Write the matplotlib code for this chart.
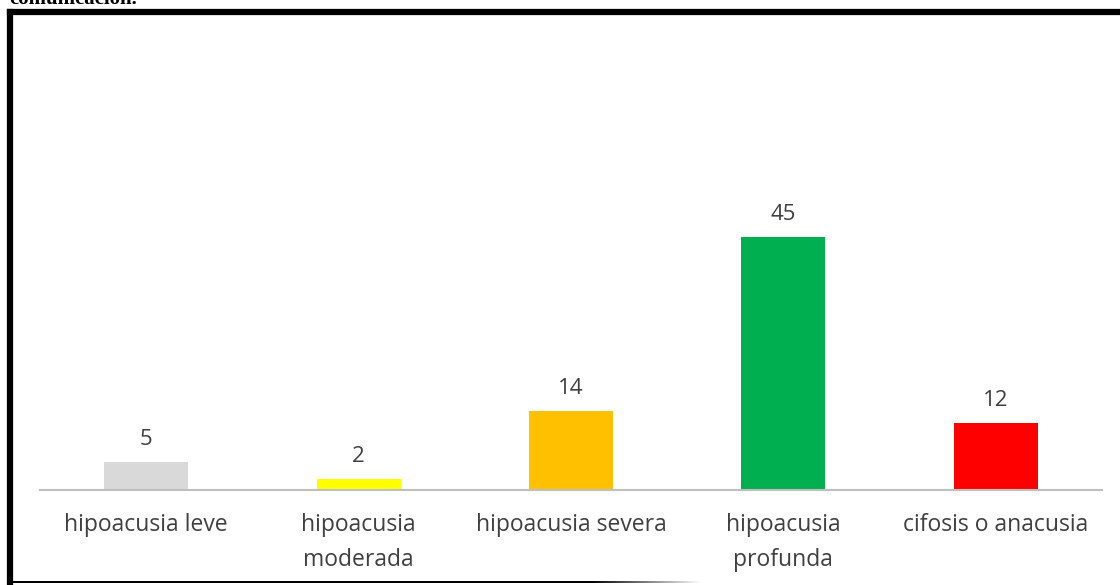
import numpy as np
import matplotlib.pyplot as plt
from matplotlib.lines import Line2D

# Grado de pérdida auditiva de los estudiantes
categorias = ['hipoacusia leve', 'hipoacusia\nmoderada', 'hipoacusia severa',
              'hipoacusia\nprofunda', 'cifosis o anacusia']
valores = [5, 2, 14, 45, 12]
colores = ['#d9d9d9', '#ffff00', '#ffc000', '#00b050', '#ff0000']

W, H = 1120, 585
fig = plt.figure(figsize=(W / 100, H / 100), dpi=100)

# marco negro alrededor del grafico
fig.add_artist(Line2D([10 / W, 10 / W], [0, 1 - 12 / H], color='black', lw=4.5,
                      transform=fig.transFigure, solid_capstyle='projecting'))
fig.add_artist(Line2D([10 / W, 1], [1 - 12 / H, 1 - 12 / H], color='black', lw=4.5,
                      transform=fig.transFigure, solid_capstyle='projecting'))

# borde inferior que se desvanece hacia la derecha (imagen en pixeles)
largo = 690
gris = np.clip((np.arange(largo) - 580) / 110, 0, 1)
franja = np.zeros((2, largo, 4))
franja[..., 0] = gris
franja[..., 1] = gris
franja[..., 2] = gris
franja[..., 3] = 1.0
fig.figimage(franja, xo=11, yo=2, origin='lower', zorder=5)

# resto del titulo del documento, cortado arriba
fig.text(9 / W, 1 - 4 / H, 'comunicación.', fontsize=15, fontweight='bold',
         family='Liberation Serif', va='baseline', ha='left')

ax = fig.add_axes([40 / W, (H - 490) / H, 1062 / W, 465 / H])
x = np.arange(len(categorias))
ax.bar(x, valores, width=84 / 212.5, color=colores, zorder=2)
ax.set_xlim(-0.5, len(categorias) - 0.5)
ax.set_ylim(0, 82.7)

for xi, v in zip(x, valores):
    ax.text(xi, v + 4.0, str(v), ha='center', va='center', fontsize=16,
            family='Open Sans', color='#404040')

ax.set_xticks(x)
ax.set_xticklabels(categorias, fontsize=16.5, family='Open Sans', color='#404040',
                   linespacing=1.6, va='top')
ax.tick_params(axis='x', length=0, pad=16.5)
ax.set_yticks([])
for lado in ['top', 'right', 'left']:
    ax.spines[lado].set_visible(False)
ax.spines['bottom'].set_color('#bfbfbf')
ax.spines['bottom'].set_linewidth(1.5)

fig.savefig('out.png', dpi=100)
